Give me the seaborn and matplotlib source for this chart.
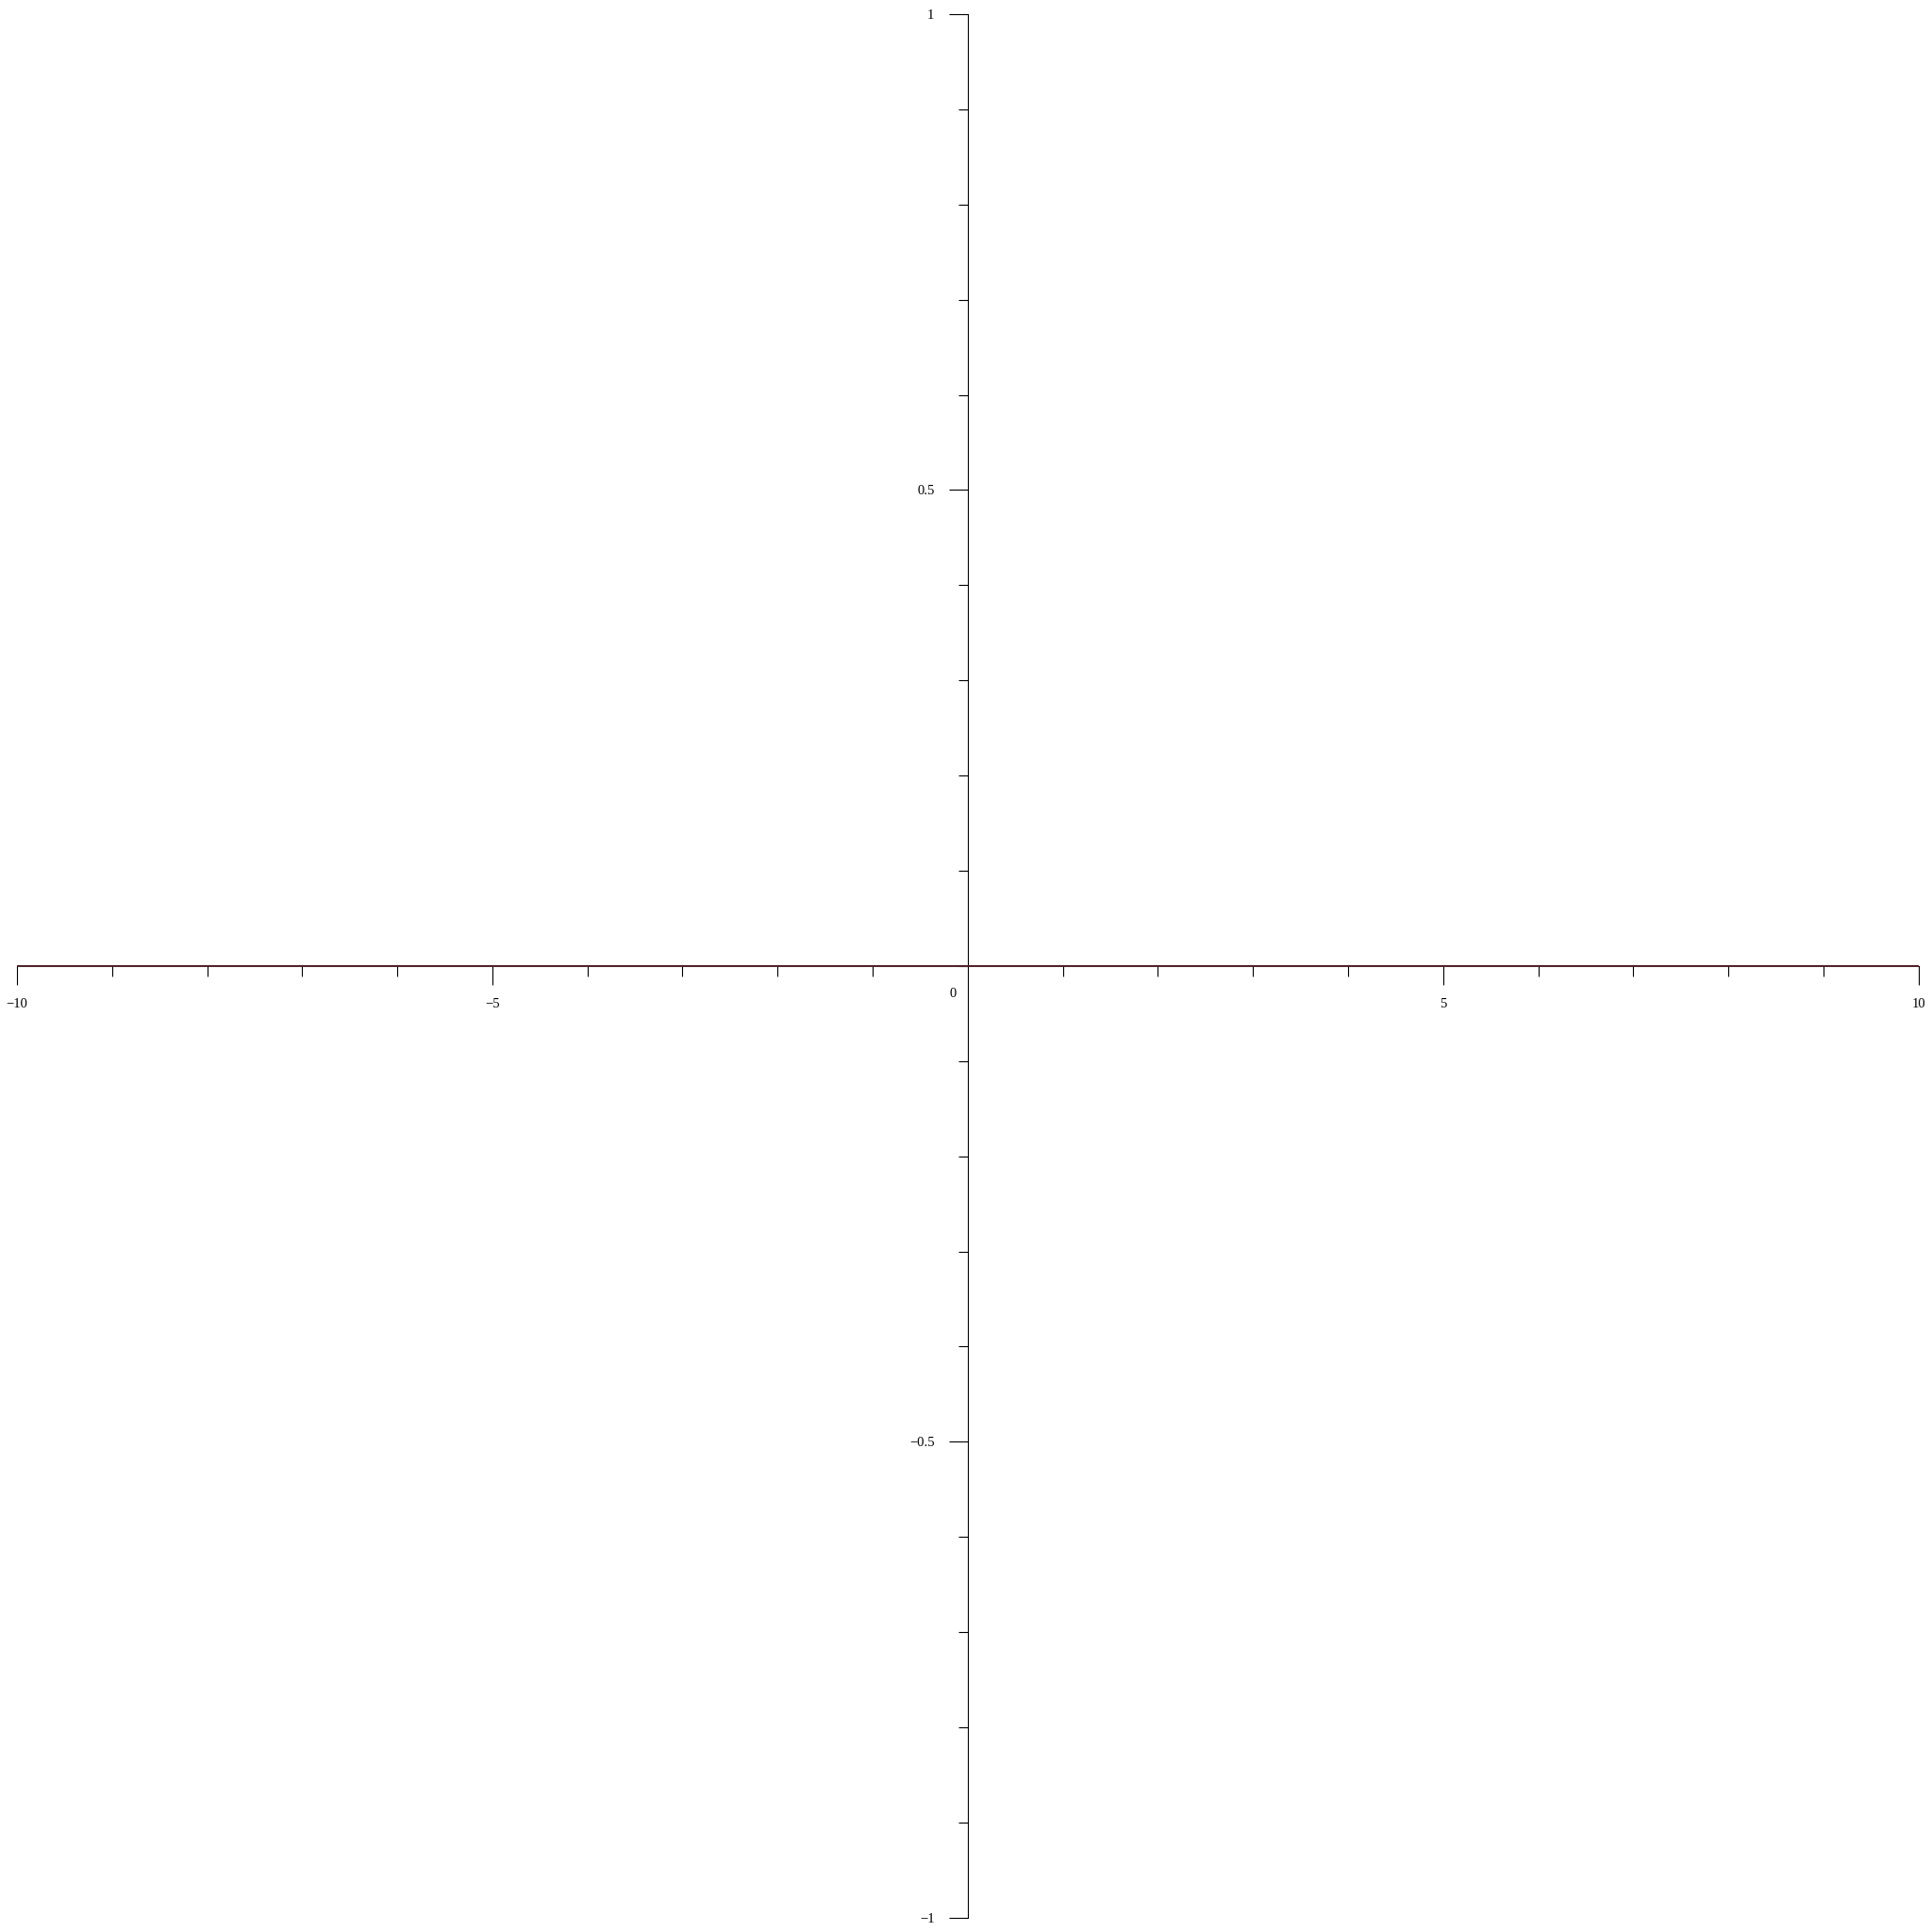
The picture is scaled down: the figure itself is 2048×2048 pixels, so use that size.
import numpy as np
import matplotlib
matplotlib.use("Agg")
import matplotlib.pyplot as plt
import seaborn as sns
from matplotlib.ticker import FixedLocator

# plotted curve: f(x) = 0 on [-10, 10]
x_vals = [-10, -5, 0, 5, 10]
y_vals = [0, 0, 0, 0, 0]

x_major = [-10, -5, 5, 10]
x_minor = [-9, -8, -7, -6, -4, -3, -2, -1, 1, 2, 3, 4, 6, 7, 8, 9]
y_major = [-1, -0.5, 0.5, 1]
y_minor = [-0.9, -0.8, -0.7, -0.6, -0.4, -0.3, -0.2, -0.1, 0,
           0.1, 0.2, 0.3, 0.4, 0.6, 0.7, 0.8, 0.9]
y_labels = ["\u22121", "\u22120.5", "0.5", "1"]
x_labels = ["\u221210", "\u22125", "5", "10"]

sns.set_theme(style="white")
plt.rcParams["font.family"] = ["Liberation Serif", "DejaVu Serif"]

W = 2048
fig = plt.figure(figsize=(20.48, 20.48), dpi=100)
ax = fig.add_axes([18 / W, 15.3 / W, 2015.7 / W, 2017.7 / W])

sns.lineplot(x=x_vals, y=y_vals, ax=ax, color="#4f1d22", linewidth=1.3,
             zorder=5, clip_on=False, solid_capstyle="butt")

ax.set_xlim(-10, 10)
ax.set_ylim(-1, 1)
ax.patch.set_visible(False)

for side in ["top", "right"]:
    ax.spines[side].set_visible(False)
ax.spines["left"].set_position(("data", 0))
ax.spines["bottom"].set_position(("data", 0))
for side in ["left", "bottom"]:
    ax.spines[side].set_color("black")
    ax.spines[side].set_linewidth(0.8)

ax.xaxis.set_major_locator(FixedLocator(x_major))
ax.xaxis.set_minor_locator(FixedLocator(x_minor))
ax.yaxis.set_major_locator(FixedLocator(y_major))
ax.yaxis.set_minor_locator(FixedLocator(y_minor))
ax.set_xticklabels(x_labels)
ax.set_yticklabels(y_labels)

ax.tick_params(which="both", bottom=True, left=True, top=False, right=False)
ax.tick_params(axis="x", which="major", direction="out", length=14.4, width=0.8,
               color="black", pad=10, labelsize=10.5, labelcolor="black")
ax.tick_params(axis="x", which="minor", direction="out", length=7.6, width=0.8,
               color="black")
ax.tick_params(axis="y", which="major", direction="out", length=14.4, width=0.8,
               color="black", pad=11, labelsize=10.5, labelcolor="black")
ax.tick_params(axis="y", which="minor", direction="out", length=7.2, width=0.8,
               color="black")
ax.grid(False)

ax.annotate("0", xy=(0, 0), xytext=(-11.5, -21), textcoords="offset points",
            ha="center", va="center", fontsize=10.5, color="black")

fig.savefig("out.png", dpi=100, facecolor="white")
plt.close(fig)
